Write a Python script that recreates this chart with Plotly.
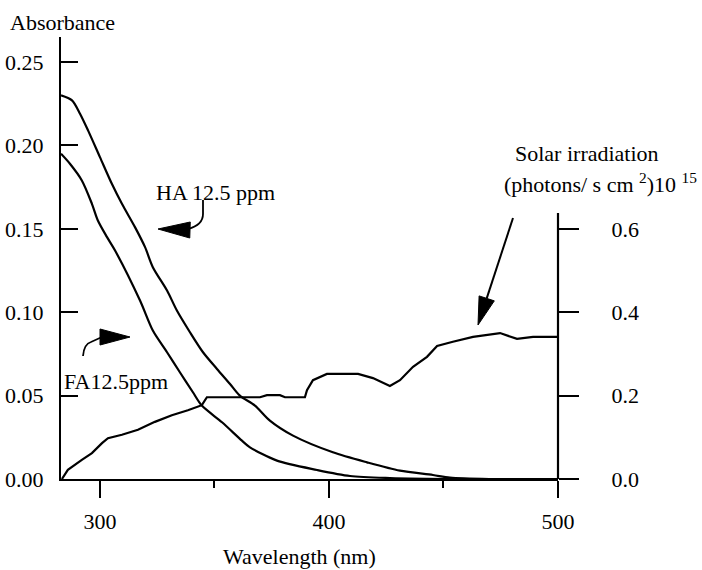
import plotly.graph_objects as go

# ---------------- data ----------------
wl_ha = [283.0, 287.8, 291.3, 294.8, 300.0, 305.2, 309.6, 315.3, 319.7, 323.1, 329.3,
         333.6, 339.3, 345.0, 351.1, 356.8, 361.1, 367.7, 374.2, 384.3, 401.7, 416.6,
         431.0, 445.4, 452.8, 470.0, 500.0]
abs_ha = [0.230, 0.227, 0.219, 0.209, 0.193, 0.177, 0.165, 0.151, 0.139, 0.127, 0.113,
          0.101, 0.088, 0.076, 0.066, 0.057, 0.050, 0.044, 0.035, 0.026, 0.016, 0.010,
          0.005, 0.0024, 0.0008, 0.0, 0.0]

wl_fa = [283.0, 286.9, 292.1, 296.5, 299.1, 303.1, 306.6, 317.5, 323.1, 329.3, 334.9,
         340.6, 344.5, 353.3, 362.0, 365.5, 377.3, 394.8, 409.2, 426.6, 457.0, 500.0]
abs_fa = [0.195, 0.189, 0.179, 0.165, 0.155, 0.145, 0.137, 0.107, 0.089, 0.076, 0.064,
          0.052, 0.044, 0.034, 0.023, 0.019, 0.011, 0.0054, 0.0018, 0.0006, 0.0, 0.0]

wl_sol = [283.4, 286.0, 292.1, 296.5, 300.9, 303.5, 309.6, 316.6, 324.0, 331.4, 338.4,
          344.5, 346.7, 369.9, 372.9, 378.6, 380.8, 389.5, 390.4, 393.0, 399.1, 412.7,
          419.2, 426.6, 431.0, 436.7, 442.8, 447.2, 454.1, 462.9, 474.7, 482.1, 489.1, 500.0]
solar = [0.0, 0.022, 0.046, 0.062, 0.086, 0.098, 0.106, 0.118, 0.137, 0.153, 0.165,
         0.177, 0.196, 0.196, 0.201, 0.201, 0.196, 0.196, 0.213, 0.237, 0.252, 0.252,
         0.242, 0.223, 0.237, 0.269, 0.293, 0.319, 0.329, 0.341, 0.350, 0.336, 0.341, 0.341]

x_ticks = [300, 400, 500]
y_left_ticks = [0.0, 0.05, 0.10, 0.15, 0.20, 0.25]
y_right_ticks = [0.0, 0.2, 0.4, 0.6]

# ---------------- layout geometry ----------------
W, H = 702, 570
PL, PR, PT, PB = 61, 558, 37, 479
X0, X1 = 283.0, 500.0
YMAX = 0.265
Y2MAX = YMAX * 4
FONT = "Liberation Serif, Times New Roman, serif"
FS = 22
LW = 2.2


def dx(px):
    return X0 + (px - PL) / (PR - PL) * (X1 - X0)


def dy(py):
    return (PB - py) / (PB - PT) * YMAX


def paper_x(px):
    return (px - PL) / (PR - PL)


def paper_y(py):
    return (PB - py) / (PB - PT)


def pt(p):
    return f"{dx(p[0])},{dy(p[1])}"


def triangle(tip, base_c, half):
    tx, ty = tip
    bx, by = base_c
    L = ((tx - bx) ** 2 + (ty - by) ** 2) ** 0.5
    nx, ny = -(ty - by) / L, (tx - bx) / L
    c1 = (bx + half * nx, by + half * ny)
    c2 = (bx - half * nx, by - half * ny)
    return f"M {pt(tip)} L {pt(c1)} L {pt(c2)} Z"


fig = go.Figure()
fig.add_trace(go.Scatter(x=wl_ha, y=abs_ha, mode="lines",
                         line=dict(color="black", width=LW, shape="spline", smoothing=0.8),
                         name="HA 12.5 ppm", showlegend=False))
fig.add_trace(go.Scatter(x=wl_fa, y=abs_fa, mode="lines",
                         line=dict(color="black", width=LW, shape="spline", smoothing=0.8),
                         name="FA12.5ppm", showlegend=False))
fig.add_trace(go.Scatter(x=wl_sol, y=solar, mode="lines", yaxis="y2",
                         line=dict(color="black", width=LW),
                         name="Solar irradiation", showlegend=False))

shapes = []
# right axis line (partial)
shapes.append(dict(type="line", xref="paper", yref="paper", x0=1, x1=1,
                   y0=0, y1=paper_y(213), line=dict(color="black", width=LW)))
# HA arrow
shapes.append(dict(type="path", xref="x", yref="y",
                   path=f"M {pt((203,200))} L {pt((203,214))} Q {pt((203,225))} {pt((188,229))}",
                   line=dict(color="black", width=1.8)))
shapes.append(dict(type="path", xref="x", yref="y", path=triangle((158, 229), (190, 230), 8),
                   fillcolor="black", line=dict(color="black", width=1)))
# FA arrow
shapes.append(dict(type="path", xref="x", yref="y",
                   path=f"M {pt((83,356))} Q {pt((84,344))} {pt((91,342))} L {pt((102,337))}",
                   line=dict(color="black", width=1.8)))
shapes.append(dict(type="path", xref="x", yref="y", path=triangle((130, 337), (100, 337), 8),
                   fillcolor="black", line=dict(color="black", width=1)))
# Solar arrow
tip = (478, 325)
tail = (513, 218)
ux, uy = tip[0] - tail[0], tip[1] - tail[1]
ul = (ux ** 2 + uy ** 2) ** 0.5
ux, uy = ux / ul, uy / ul
base_c = (tip[0] - 28 * ux, tip[1] - 28 * uy)
shapes.append(dict(type="path", xref="x", yref="y",
                   path=f"M {pt(tail)} L {pt(base_c)}",
                   line=dict(color="black", width=2)))
shapes.append(dict(type="path", xref="x", yref="y", path=triangle(tip, base_c, 8),
                   fillcolor="black", line=dict(color="black", width=1)))

tf = dict(family=FONT, size=FS, color="black")
annotations = [
    dict(text="Absorbance", x=paper_x(62), y=paper_y(23), xref="paper", yref="paper",
         showarrow=False, font=tf, xanchor="center", yanchor="middle"),
    dict(text="Wavelength (nm)", x=paper_x(299), y=paper_y(556), xref="paper", yref="paper",
         showarrow=False, font=tf, xanchor="center", yanchor="middle"),
    dict(text="HA 12.5 ppm", x=paper_x(215), y=paper_y(193), xref="paper", yref="paper",
         showarrow=False, font=tf, xanchor="center", yanchor="middle"),
    dict(text="FA12.5ppm", x=paper_x(62), y=paper_y(381), xref="paper", yref="paper",
         showarrow=False, font=tf, xanchor="left", yanchor="middle"),
    dict(text="Solar irradiation", x=paper_x(587), y=paper_y(153), xref="paper", yref="paper",
         showarrow=False, font=tf, xanchor="center", yanchor="middle"),
    dict(text="(photons/ s cm <sup>2</sup>)10 <sup>15</sup>", x=paper_x(502), y=paper_y(183),
         xref="paper", yref="paper", showarrow=False, font=tf, xanchor="left", yanchor="middle"),
]

fig.update_layout(
    width=W, height=H,
    margin=dict(l=PL, r=W - PR, t=PT, b=H - PB, pad=0, autoexpand=False),
    paper_bgcolor="white", plot_bgcolor="white",
    font=tf,
    showlegend=False,
    xaxis=dict(range=[X0, X1], showgrid=False, zeroline=False, automargin=False,
               showline=True, linecolor="black", linewidth=LW,
               tickvals=x_ticks, ticks="outside", ticklen=17, tickwidth=LW, tickcolor="black",
               minor=dict(tickvals=[350, 450], ticks="outside", ticklen=7, tickwidth=LW,
                          tickcolor="black", showgrid=False),
               ticklabelstandoff=4, tickfont=tf),
    yaxis=dict(range=[0, YMAX], showgrid=False, zeroline=False, automargin=False,
               showline=True, linecolor="black", linewidth=LW,
               tickvals=y_left_ticks, tickformat=".2f", ticks="inside", ticklen=17,
               tickwidth=LW, tickcolor="black", ticklabelstandoff=11, tickfont=tf),
    yaxis2=dict(range=[0, Y2MAX], overlaying="y", side="right", showgrid=False,
                zeroline=False, showline=False, automargin=False,
                tickvals=y_right_ticks, tickformat=".1f", ticks="outside", ticklen=20,
                tickwidth=LW, tickcolor="black", ticklabelstandoff=28, tickfont=tf),
    shapes=shapes,
    annotations=annotations,
)

fig.write_html("out.html")
